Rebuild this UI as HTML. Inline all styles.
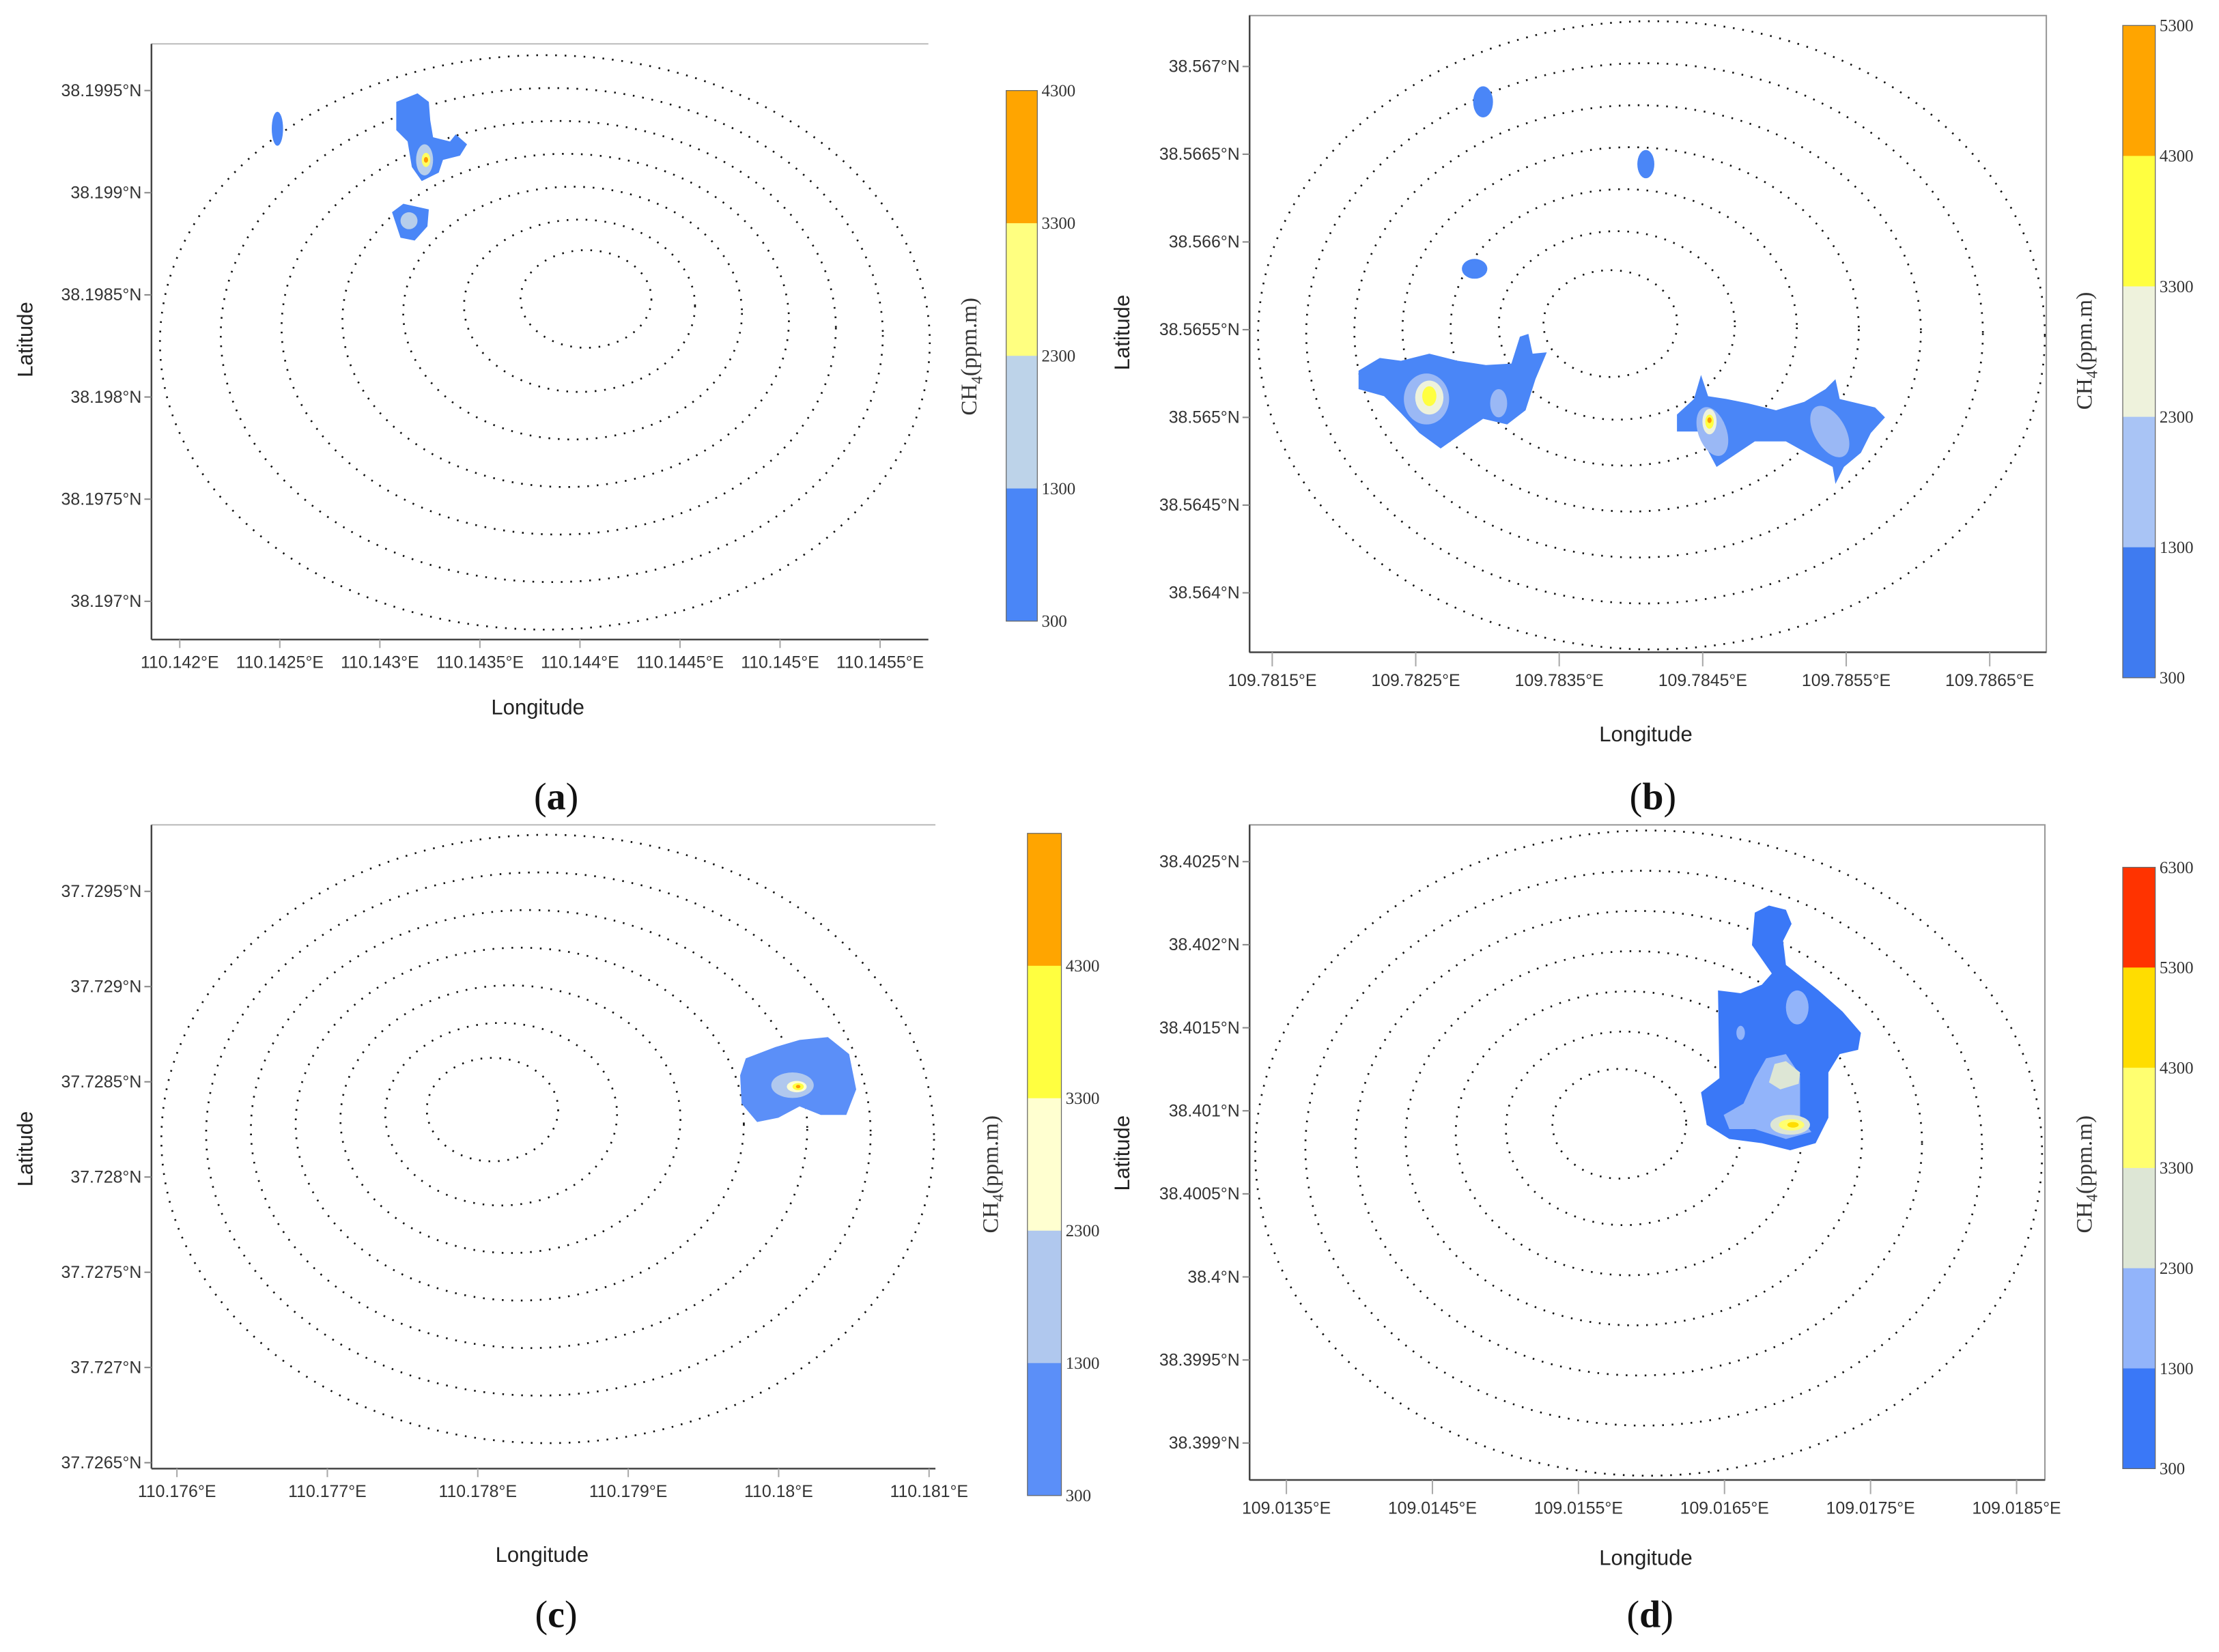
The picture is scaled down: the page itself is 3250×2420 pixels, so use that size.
<!DOCTYPE html>
<html><head><meta charset="utf-8">
<style>
html,body{margin:0;padding:0;background:#fff;}
svg{display:block;}
text{font-family:"Liberation Sans",sans-serif;}
.tk{font-size:12px;fill:#333;}
.ax{font-size:15px;fill:#222;}
.cb{font-size:12px;fill:#333;font-family:"Liberation Serif",serif;}
.pl{font-size:27px;fill:#111;font-family:"Liberation Serif",serif;}
</style></head>
<body>
<svg id="fig" width="3250" height="2420" viewBox="0 0 1568 1167.6" xmlns="http://www.w3.org/2000/svg"></svg>
<script>
// ---- data ----
const aLatTicks=["38.1995°N","38.199°N","38.1985°N","38.198°N","38.1975°N","38.197°N"];
const aLonTicks=["110.142°E","110.1425°E","110.143°E","110.1435°E","110.144°E","110.1445°E","110.145°E","110.1455°E"];
const aCbLabels=["4300","3300","2300","1300","300"];
const aCbColors=["#FFA500","#FFFF80","#BDD3E9","#4A86F7"];
const bLatTicks=["38.567°N","38.5665°N","38.566°N","38.5655°N","38.565°N","38.5645°N","38.564°N"];
const bLonTicks=["109.7815°E","109.7825°E","109.7835°E","109.7845°E","109.7855°E","109.7865°E"];
const bCbLabels=["5300","4300","3300","2300","1300","300"];
const bCbColors=["#FFA500","#FFFF40","#EEF2DC","#A9C4F5","#3F7BF0"];
const cLatTicks=["37.7295°N","37.729°N","37.7285°N","37.728°N","37.7275°N","37.727°N","37.7265°N"];
const cLonTicks=["110.176°E","110.177°E","110.178°E","110.179°E","110.18°E","110.181°E"];
const cCbLabels=["","4300","3300","2300","1300","300"];
const cCbColors=["#FFA500","#FFFF40","#FFFFD0","#B0C8EE","#5B8FF8"];
const dLatTicks=["38.4025°N","38.402°N","38.4015°N","38.401°N","38.4005°N","38.4°N","38.3995°N","38.399°N"];
const dLonTicks=["109.0135°E","109.0145°E","109.0155°E","109.0165°E","109.0175°E","109.0185°E"];
const dCbLabels=["6300","5300","4300","3300","2300","1300","300"];
const dCbColors=["#FF3300","#FFDD00","#FFFF70","#DDE6D5","#92B4FA","#3A78F7"];
// ring scale fractions (relative to outermost flight ring)
const ringFrac=[1,0.86,0.72,0.58,0.44,0.30,0.17];

const NS="http://www.w3.org/2000/svg";
const svg=document.getElementById('fig');
function el(tag,attrs,parent,txt){const e=document.createElementNS(NS,tag);for(const k in attrs)e.setAttribute(k,attrs[k]);if(txt!==undefined)e.textContent=txt;(parent||svg).appendChild(e);return e;}

function panel(p){
  const g=el('g',{});
  
  
  const rg=el('g',{},g);
  
  
  ringFrac.forEach((f,i)=>{
    const r=el('ellipse',{cx:p.rc[0]+(1-f)*p.shift[0],cy:p.rc[1]+(1-f)*p.shift[1],rx:p.rr[0]*f,ry:p.rr[1]*f,fill:'none',stroke:'#111','stroke-width':1.3,'stroke-dasharray':'1.2 5.5'},rg);
    
    
  });
  const pg=el('g',{},g);
  
  
  p.plumes.forEach((sh,i)=>{
    const s=el(sh[0],sh[1],pg);
    
    
  });
  const [x0,y0,x1,y1]=p.box;
  if(p.fullBox){const b=el('rect',{x:x0,y:y0,width:x1-x0,height:y1-y0,fill:'none',stroke:'#999','stroke-width':1},g);
    }
  else{const t=el('line',{x1:x0,y1:y0,x2:x1,y2:y0,stroke:'#bbb','stroke-width':1},g);
    }
  const ya=el('line',{x1:x0,y1:y0,x2:x0,y2:y1,stroke:'#444','stroke-width':1.2},g);
  
  const xa=el('line',{x1:x0,y1:y1,x2:x1,y2:y1,stroke:'#444','stroke-width':1.2},g);
  
  p.lat.forEach((t,i)=>{
    const y=p.latY0+i*p.latStep;
    el('line',{x1:x0-5,y1:y,x2:x0,y2:y,stroke:'#888'},g);
    const tx=el('text',{x:x0-7,y:y+4,'text-anchor':'end',class:'tk'},g,t);
    
  });
  p.lon.forEach((t,i)=>{
    const x=p.lonX0+i*p.lonStep;
    el('line',{x1:x,y1:y1,x2:x,y2:y1+(p.tickDown||6),stroke:'#aaa'},g);
    const tx=el('text',{x:x,y:y1+(p.tickDown?p.tickDown+14:20),'text-anchor':'middle',class:'tk'},g,t);
    
  });
  const lt=el('text',{x:0,y:0,transform:`translate(${p.latLbl[0]},${p.latLbl[1]}) rotate(-90)`,'text-anchor':'middle',class:'ax'},g,'Latitude');
  
  const lo=el('text',{x:p.lonLbl[0],y:p.lonLbl[1],'text-anchor':'middle',class:'ax'},g,'Longitude');
  
  const cg=el('g',{},g);
  
  
  const [cx,cy0,cw,cy1]=p.cb;const n=p.cbColors.length;const h=(cy1-cy0)/n;
  p.cbColors.forEach((c,i)=>{
    const r=el('rect',{x:cx,y:cy0+i*h,width:cw,height:h+0.3,fill:c},cg);
    
  });
  el('rect',{x:cx,y:cy0,width:cw,height:cy1-cy0,fill:'none',stroke:'#666','stroke-width':0.6},cg);
  p.cbLabels.forEach((t,i)=>{
    const tx=el('text',{x:cx+cw+3,y:cy0+i*h+4,class:'cb'},cg,t);
    
  });
  const ct=el('text',{x:0,y:0,transform:`translate(${p.cbTitle[0]},${p.cbTitle[1]}) rotate(-90)`,'text-anchor':'middle',class:'cb',style:'font-size:16px'},cg);
  
  el('tspan',{},ct,'CH');el('tspan',{dy:4,style:'font-size:11px'},ct,'4');el('tspan',{dy:-4},ct,'(ppm.m)');
  const pl=el('text',{x:p.plbl[0],y:p.plbl[1],'text-anchor':'middle',class:'pl'},g);
  
  el('tspan',{},pl,'(');el('tspan',{'font-weight':'bold'},pl,p.id);el('tspan',{},pl,')');
}
const B1='#4A86F7',B2='#B7CEEB',Y='#FFFF60',O='#FF9900';
panel({id:'a',box:[107,31,656,452],lat:aLatTicks,latY0:64,latStep:72.2,lon:aLonTicks,lonX0:127,lonStep:70.7,
 rc:[385,242],rr:[272,203],shift:[35,-37],
 plumes:[['ellipse',{cx:196,cy:91,rx:4,ry:12,fill:B1}],
  ['path',{d:'M280,72 L295,66 L303,72 L304,85 L306,97 L318,100 L322,95 L330,102 L325,110 L313,113 L310,122 L298,128 L291,118 L288,100 L280,92 Z',fill:B1}],
  ['ellipse',{cx:300,cy:113,rx:6,ry:11,fill:B2}],['ellipse',{cx:301,cy:113,rx:3,ry:5,fill:Y}],['ellipse',{cx:301,cy:113,rx:1.5,ry:2,fill:O}],
  ['path',{d:'M277,150 L285,144 L303,148 L302,160 L293,170 L283,168 Z',fill:B1}],['ellipse',{cx:289,cy:156,rx:6,ry:6,fill:B2}]],
 cb:[711,64,22,439],cbLabels:aCbLabels,cbColors:aCbColors,cbTitle:[690,252],latLbl:[23,240],lonLbl:[380,505],plbl:[393,572]});
panel({id:'b',box:[883,11,1446,461],fullBox:true,lat:bLatTicks,latY0:47,latStep:62,lon:bLonTicks,lonX0:899,lonStep:101.4,tickDown:10,
 rc:[1167,237],rr:[278,222],shift:[-35,-10],
 plumes:[['ellipse',{cx:1048,cy:72,rx:7,ry:11,fill:B1}],['ellipse',{cx:1163,cy:116,rx:6,ry:10,fill:B1}],['ellipse',{cx:1042,cy:190,rx:9,ry:7,fill:B1}],
  ['path',{d:'M960,262 L975,253 L990,255 L1010,250 L1030,255 L1050,258 L1068,257 L1074,238 L1080,236 L1083,250 L1093,249 L1085,268 L1078,290 L1065,300 L1048,296 L1035,305 L1018,317 L1003,306 L990,292 L978,280 L960,275 Z',fill:B1}],
  ['ellipse',{cx:1008,cy:282,rx:16,ry:18,fill:'#9AB8F5'}],['ellipse',{cx:1010,cy:281,rx:10,ry:12,fill:'#EEF2DC'}],['ellipse',{cx:1010,cy:280,rx:5,ry:7,fill:'#FFFF40'}],
  ['ellipse',{cx:1059,cy:285,rx:6,ry:10,fill:'#9AB8F5'}],
  ['path',{d:'M1185,293 L1197,282 L1202,265 L1207,280 L1220,282 L1235,285 L1255,290 L1275,284 L1290,275 L1297,268 L1300,282 L1325,288 L1332,295 L1322,306 L1315,320 L1303,330 L1297,342 L1295,330 L1280,322 L1262,312 L1240,312 L1228,320 L1213,330 L1205,315 L1200,305 L1185,305 Z',fill:B1}],
  ['ellipse',{cx:1210,cy:305,rx:10,ry:18,fill:'#9AB8F5',transform:'rotate(-20 1210 305)'}],['ellipse',{cx:1208,cy:298,rx:5,ry:9,fill:'#EEF2DC'}],['ellipse',{cx:1208,cy:298,rx:3,ry:5,fill:'#FFFF40'}],['ellipse',{cx:1208,cy:297,rx:1.5,ry:2,fill:O}],
  ['ellipse',{cx:1293,cy:305,rx:11,ry:20,fill:'#9AB8F5',transform:'rotate(-30 1293 305)'}]],
 cb:[1500,18,23,479],cbLabels:bCbLabels,cbColors:bCbColors,cbTitle:[1478,248],latLbl:[798,235],lonLbl:[1163,524],plbl:[1168,572]});
panel({id:'c',box:[107,583,661,1038],lat:cLatTicks,latY0:630,latStep:67.3,lon:cLonTicks,lonX0:125,lonStep:106.3,
 rc:[387,805],rr:[273,215],shift:[-47,-25],
 plumes:[['path',{d:'M527,748 L548,740 L565,735 L585,733 L600,745 L605,770 L598,788 L580,788 L565,782 L550,790 L535,793 L524,780 L523,760 Z',fill:'#5B8FF8'}],
  ['ellipse',{cx:560,cy:767,rx:15,ry:9,fill:'#B0C8EE'}],['ellipse',{cx:563,cy:768,rx:7,ry:4,fill:'#FFFFD0'}],['ellipse',{cx:564,cy:768,rx:4,ry:2.5,fill:'#FFFF40'}],['ellipse',{cx:564,cy:768,rx:1.6,ry:1.2,fill:O}]],
 cb:[726,589,24,1057],cbLabels:cCbLabels,cbColors:cCbColors,cbTitle:[705,830],latLbl:[23,812],lonLbl:[383,1104],plbl:[393,1150]});
panel({id:'d',box:[883,583,1445,1046],fullBox:true,lat:dLatTicks,latY0:609,latStep:58.7,lon:dLonTicks,lonX0:909,lonStep:103.2,tickDown:10,
 rc:[1165,815],rr:[278,228],shift:[-25,-25],
 plumes:[['path',{d:'M1240,645 L1250,640 L1262,643 L1266,653 L1260,665 L1262,682 L1285,700 L1302,715 L1315,730 L1313,742 L1300,745 L1292,758 L1292,790 L1283,808 L1265,813 L1245,808 L1222,805 L1206,795 L1202,772 L1215,762 L1214,700 L1230,702 L1245,696 L1252,688 L1238,668 Z',fill:'#3A78F7'}],
  ['path',{d:'M1240,762 L1248,748 L1262,745 L1272,760 L1272,790 L1280,800 L1262,805 L1240,798 L1222,798 L1218,788 L1232,780 Z',fill:'#92B4FA'}],
  ['ellipse',{cx:1270,cy:712,rx:8,ry:12,fill:'#92B4FA'}],['ellipse',{cx:1230,cy:730,rx:3,ry:5,fill:'#92B4FA'}],
  ['path',{d:'M1254,752 L1262,750 L1272,758 L1271,766 L1258,770 L1250,765 Z',fill:'#DDE6D5'}],
  ['ellipse',{cx:1265,cy:795,rx:14,ry:7,fill:'#DDE6D5'}],['ellipse',{cx:1266,cy:795,rx:9,ry:4,fill:'#FFFF70'}],['ellipse',{cx:1267,cy:795,rx:4,ry:2,fill:'#FFDD00'}]],
 cb:[1500,613,23,1038],cbLabels:dCbLabels,cbColors:dCbColors,cbTitle:[1478,830],latLbl:[798,815],lonLbl:[1163,1106],plbl:[1166,1150]});
</script>
</body></html>
